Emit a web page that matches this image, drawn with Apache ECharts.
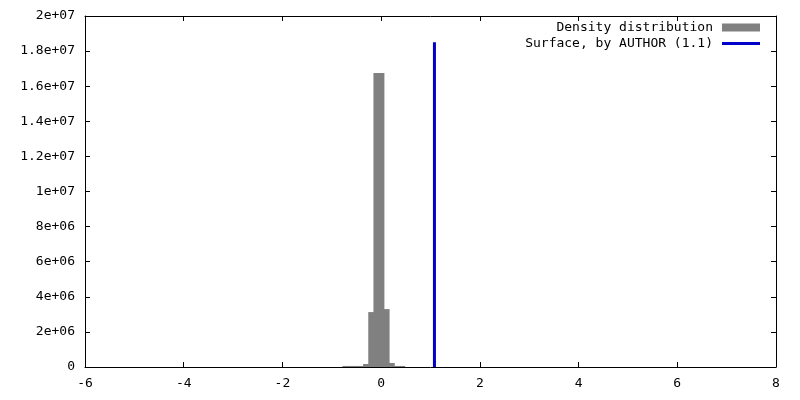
<!DOCTYPE html>
<html>
<head>
<meta charset="utf-8">
<script src="https://cdn.jsdelivr.net/npm/echarts@6/dist/echarts.min.js"></script>
<style>html,body{margin:0;padding:0;background:#fff}#c{width:800px;height:400px}</style>
</head>
<body>
<div id="c"></div>
<script>
// Histogram bins (centers, common width) and densities
const binCenters = [-0.7275, -0.6225, -0.5175, -0.4125, -0.3075, -0.2025, -0.0975, 0.0075, 0.1125, 0.2175, 0.3225, 0.4275];
const binWidth = 0.105;
const binValues = [60000, 60000, 60000, 60000, 170000, 3130000, 16750000, 16750000, 3300000, 230000, 60000, 60000];
// Surface marker line
const surfaceX = 1.08;
const surfaceTop = 18500000;
const seriesNames = ['Density distribution', 'Surface, by AUTHOR (1.1)'];
const xTicks = [-6, -4, -2, 0, 2, 4, 6, 8];
const yTickLabels = ['0', '2e+06', '4e+06', '6e+06', '8e+06', '1e+07', '1.2e+07', '1.4e+07', '1.6e+07', '1.8e+07', '2e+07'];

const FONT = 'DejaVu Sans Mono';
const chart = echarts.init(document.getElementById('c'), null, {renderer: 'canvas'});
const histData = binCenters.map((c, i) => [c, binValues[i]]);
const tickStyle = {show: true, inside: true, length: 5, lineStyle: {color: '#000', width: 1}};
const baseLine = {show: true, onZero: false, lineStyle: {color: '#000', width: 1}};
chart.setOption({
  animation: false,
  backgroundColor: '#fff',
  grid: {left: 85, right: 24, top: 16, bottom: 33, show: false},
  legend: [
    {data: [seriesNames[0]], right: 40, top: 21, padding: 0, align: 'right', icon: 'rect', itemWidth: 38, itemHeight: 8,
     textStyle: {fontFamily: FONT, fontSize: 13, color: '#000', padding: [0, 4, 0, 0]}},
    {data: [seriesNames[1]], right: 40, top: 37, padding: 0, align: 'right', icon: 'rect', itemWidth: 38, itemHeight: 3,
     textStyle: {fontFamily: FONT, fontSize: 13, color: '#000', padding: [0, 4, 0, 0]}}
  ],
  xAxis: [
    {type: 'value', min: xTicks[0], max: xTicks[xTicks.length - 1], interval: 2, position: 'bottom',
     axisLine: baseLine, axisTick: tickStyle, splitLine: {show: false},
     axisLabel: {margin: 10, color: '#000', fontFamily: FONT, fontSize: 13}},
    {type: 'value', min: xTicks[0], max: xTicks[xTicks.length - 1], interval: 2, position: 'top',
     axisLine: baseLine, axisTick: tickStyle, splitLine: {show: false}, axisLabel: {show: false}}
  ],
  yAxis: [
    {type: 'value', min: 0, max: 2e7, interval: 2e6, position: 'left',
     axisLine: baseLine, axisTick: tickStyle, splitLine: {show: false},
     axisLabel: {margin: 10, color: '#000', fontFamily: FONT, fontSize: 13,
       formatter: (v) => yTickLabels[Math.round(v / 2e6)]}},
    {type: 'value', min: 0, max: 2e7, interval: 2e6, position: 'right',
     axisLine: baseLine, axisTick: tickStyle, splitLine: {show: false}, axisLabel: {show: false}}
  ],
  series: [
    {
      name: seriesNames[0], type: 'custom', color: '#808080',
      data: histData,
      renderItem: function (params, api) {
        const c = api.value(0), v = api.value(1);
        const p0 = api.coord([c - binWidth / 2, v]);
        const p1 = api.coord([c + binWidth / 2, 0]);
        return {type: 'rect', shape: {x: p0[0] - 0.3, y: p0[1], width: p1[0] - p0[0] + 0.6, height: p1[1] - p0[1]},
                style: {fill: '#808080'}};
      },
      encode: {x: 0, y: 1}
    },
    {
      name: seriesNames[1], type: 'line', color: '#0000c8', showSymbol: false, symbol: 'none',
      lineStyle: {width: 3, color: '#0000c8'},
      data: [[surfaceX, 0], [surfaceX, surfaceTop]]
    }
  ]
});
</script>
</body>
</html>
